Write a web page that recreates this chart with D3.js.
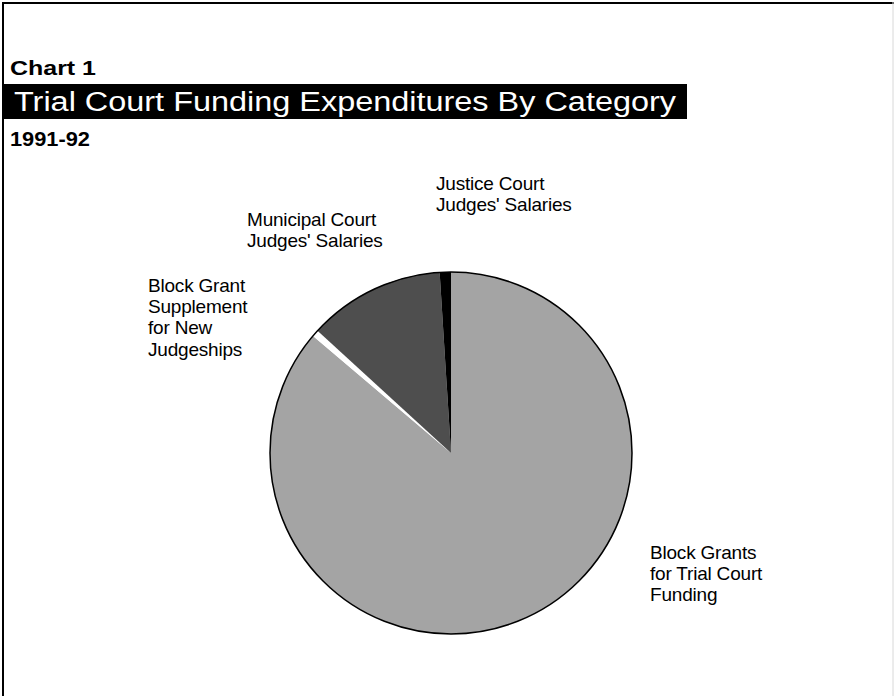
<!DOCTYPE html>
<html>
<head>
<meta charset="utf-8">
<script src="https://cdn.jsdelivr.net/npm/d3@7"></script>
<style>
  html, body { margin: 0; padding: 0; background: #fff; }
  svg { display: block; }
  text { font-family: "Liberation Sans", Arial, Helvetica, sans-serif; }
</style>
</head>
<body>
<svg id="chart" width="894" height="696"></svg>
<script>
// ---- data ----
const chartNumber = "Chart 1";
const chartTitle = "Trial Court Funding Expenditures By Category";
const chartSubtitle = "1991-92";
const categories = [
  "Block Grants for Trial Court Funding",
  "Block Grant Supplement for New Judgeships",
  "Municipal Court Judges' Salaries",
  "Justice Court Judges' Salaries"
];
const values = [86.2, 0.6, 12.2, 1.0]; // percent of total
const labelLines = [
  ["Block Grants", "for Trial Court", "Funding"],
  ["Block Grant", "Supplement", "for New", "Judgeships"],
  ["Municipal Court", "Judges' Salaries"],
  ["Justice Court", "Judges' Salaries"]
];

// ---- styles / layout ----
const fills = ["#a4a4a4", "#ffffff", "#4e4e4e", "#000000"];
const labelPos = [[650, 559], [148, 292], [247, 226], [436, 190]];
const lineStep = 21.2;
const W = 894, H = 696;
const cx = 451, cy = 453, R = 181;

const svg = d3.select("#chart");

// frame
svg.append("line").attr("x1", 3).attr("x2", 3).attr("y1", 2).attr("y2", H)
  .attr("stroke", "#000").attr("stroke-width", 2);
svg.append("line").attr("x1", 2).attr("x2", W).attr("y1", 3).attr("y2", 3)
  .attr("stroke", "#000").attr("stroke-width", 2);
svg.append("line").attr("x1", W - 1).attr("x2", W - 1).attr("y1", 2).attr("y2", H)
  .attr("stroke", "#d8d8d8").attr("stroke-width", 1);

// heading
svg.append("text").attr("x", 10).attr("y", 75)
  .attr("font-size", 21).attr("font-weight", "bold").attr("fill", "#000")
  .attr("textLength", 86).attr("lengthAdjust", "spacingAndGlyphs")
  .text(chartNumber);
svg.append("rect").attr("x", 4).attr("y", 84).attr("width", 683).attr("height", 35)
  .attr("fill", "#000");
svg.append("text").attr("x", 14).attr("y", 111)
  .attr("font-size", 27).attr("fill", "#fff")
  .attr("textLength", 662).attr("lengthAdjust", "spacingAndGlyphs")
  .text(chartTitle);
svg.append("text").attr("x", 10).attr("y", 146)
  .attr("font-size", 21).attr("font-weight", "bold").attr("fill", "#000")
  .attr("textLength", 80).attr("lengthAdjust", "spacingAndGlyphs")
  .text(chartSubtitle);

// pie
const data = categories.map((c, i) => ({ category: c, value: values[i], i }));
const pie = d3.pie().value(d => d.value).sort(null).startAngle(0).endAngle(2 * Math.PI);
const arc = d3.arc().innerRadius(0).outerRadius(R);
const g = svg.append("g").attr("transform", `translate(${cx},${cy})`);
g.selectAll("path.slice").data(pie(data)).enter().append("path")
  .attr("class", "slice")
  .attr("d", arc)
  .attr("fill", d => fills[d.data.i])
  .attr("stroke", "none");
g.append("circle").attr("r", R).attr("fill", "none").attr("stroke", "#000").attr("stroke-width", 1.5);

// labels
data.forEach((d, i) => {
  const t = svg.append("text").attr("x", labelPos[i][0]).attr("y", labelPos[i][1])
    .attr("font-size", 19).attr("fill", "#000").attr("letter-spacing", -0.2);
  labelLines[i].forEach((line, k) => {
    t.append("tspan").attr("x", labelPos[i][0]).attr("dy", k === 0 ? 0 : lineStep).text(line);
  });
});
</script>
</body>
</html>
